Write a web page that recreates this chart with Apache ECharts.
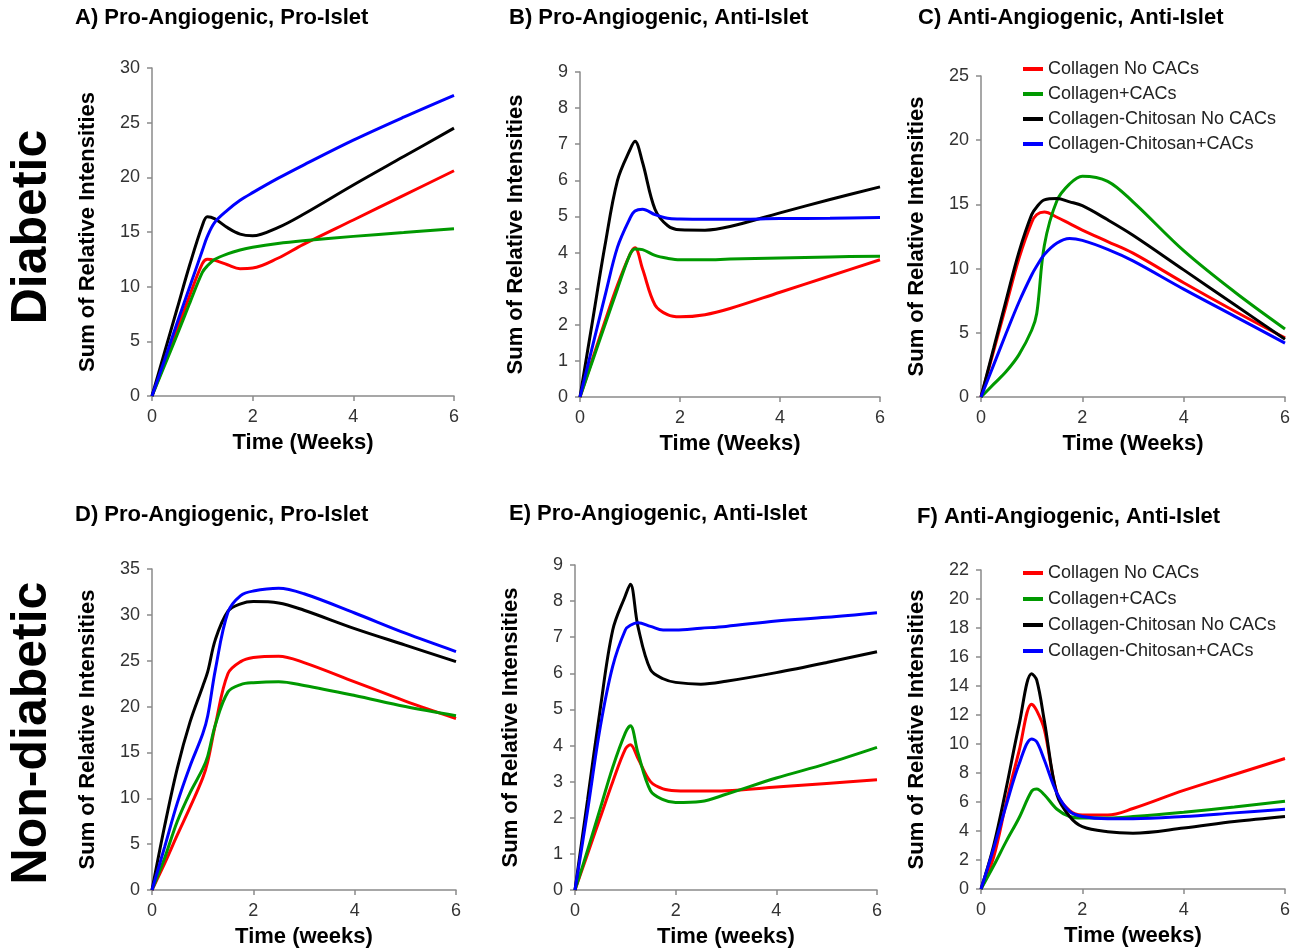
<!DOCTYPE html>
<html>
<head>
<meta charset="utf-8">
<script src="https://cdn.jsdelivr.net/npm/echarts@6/dist/echarts.min.js"></script>
<style>
  html, body { margin: 0; padding: 0; background: #fff; }
  #main { width: 1297px; height: 951px; }
</style>
</head>
<body>
<div id="main"></div>
<script>
// time points (weeks), shared by every curve
const weeks = [0, 0.25, 0.5, 0.75, 1, 1.1, 1.25, 1.5, 1.75, 2, 2.5, 3, 4, 5, 6];

const seriesNames = ['Collagen No CACs', 'Collagen+CACs', 'Collagen-Chitosan No CACs', 'Collagen-Chitosan+CACs'];
const seriesColors = ['#ff0000', '#009900', '#000000', '#0000ff'];

// A) diabetic, pro-angiogenic pro-islet
const aRed   = [0, 3.0, 6.1, 9.2, 12.1, 12.5, 12.4, 12.0, 11.65, 11.7, 12.6, 13.85, 16.1, 18.35, 20.6];
const aGreen = [0, 2.8, 5.6, 8.5, 11.3, 11.9, 12.5, 13.0, 13.35, 13.6, 13.95, 14.2, 14.6, 14.95, 15.3];
const aBlack = [0, 4.0, 8.0, 12.0, 15.6, 16.4, 16.2, 15.4, 14.8, 14.65, 15.4, 16.6, 19.3, 21.9, 24.5];
const aBlue  = [0, 3.3, 6.7, 10.0, 13.3, 14.6, 15.9, 17.0, 17.9, 18.6, 19.9, 21.1, 23.4, 25.5, 27.5];

// B) diabetic, pro-angiogenic anti-islet
const bRed   = [0, 1.05, 2.1, 3.1, 3.95, 4.13, 3.55, 2.55, 2.28, 2.22, 2.28, 2.45, 2.9, 3.35, 3.8];
const bGreen = [0, 1.0, 2.0, 3.0, 3.95, 4.1, 4.08, 3.92, 3.84, 3.8, 3.8, 3.82, 3.85, 3.88, 3.9];
const bBlack = [0, 2.1, 4.2, 6.0, 6.85, 7.08, 6.5, 5.2, 4.75, 4.63, 4.62, 4.72, 5.1, 5.47, 5.82];
const bBlue  = [0, 1.4, 2.8, 4.15, 4.95, 5.15, 5.2, 5.05, 4.95, 4.93, 4.92, 4.92, 4.94, 4.95, 4.97];

// C) diabetic, anti-angiogenic anti-islet
const cRed   = [0, 3.6, 7.2, 10.8, 13.6, 14.2, 14.4, 14.0, 13.5, 13.0, 12.1, 11.2, 8.9, 6.7, 4.6];
const cGreen = [0, 1.0, 2.0, 3.3, 5.2, 6.5, 11.8, 15.3, 16.6, 17.2, 16.8, 15.2, 11.4, 8.2, 5.3];
const cBlack = [0, 3.8, 7.6, 11.3, 14.2, 14.8, 15.35, 15.45, 15.2, 14.9, 13.8, 12.6, 9.9, 7.2, 4.5];
const cBlue  = [0, 2.5, 5.0, 7.4, 9.5, 10.2, 11.1, 12.0, 12.35, 12.2, 11.5, 10.6, 8.4, 6.3, 4.2];

// D) non-diabetic, pro-angiogenic pro-islet
const dRed   = [0, 2.9, 6.0, 9.0, 12.2, 14.0, 18.0, 23.6, 24.9, 25.35, 25.5, 24.8, 22.7, 20.6, 18.7];
const dGreen = [0, 3.5, 7.5, 10.6, 13.2, 14.6, 18.0, 21.6, 22.4, 22.6, 22.7, 22.3, 21.2, 20.0, 19.0];
const dBlack = [0, 7.0, 13.3, 18.3, 22.2, 23.8, 27.3, 30.4, 31.2, 31.45, 31.3, 30.5, 28.5, 26.7, 24.9];
const dBlue  = [0, 4.7, 9.5, 13.5, 17.0, 19.0, 24.0, 30.3, 32.1, 32.6, 32.9, 32.3, 30.2, 28.0, 26.0];

// E) non-diabetic, pro-angiogenic anti-islet
const eRed   = [0, 1.0, 2.0, 3.0, 3.9, 4.02, 3.65, 3.0, 2.8, 2.75, 2.74, 2.75, 2.85, 2.95, 3.05];
const eGreen = [0, 1.1, 2.25, 3.4, 4.35, 4.55, 3.8, 2.75, 2.5, 2.42, 2.45, 2.65, 3.1, 3.5, 3.95];
const eBlack = [0, 2.5, 5.0, 7.2, 8.15, 8.47, 7.3, 6.1, 5.85, 5.75, 5.7, 5.78, 6.02, 6.3, 6.6];
const eBlue  = [0, 2.2, 4.5, 6.2, 7.2, 7.33, 7.4, 7.3, 7.2, 7.2, 7.25, 7.3, 7.45, 7.55, 7.68];

// F) non-diabetic, anti-angiogenic anti-islet
const fRed   = [0, 2.2, 6.0, 9.5, 12.75, 12.3, 11.0, 6.6, 5.4, 5.1, 5.1, 5.55, 6.8, 7.9, 9.0];
const fGreen = [0, 1.6, 3.3, 4.9, 6.75, 6.9, 6.5, 5.5, 5.0, 4.9, 4.9, 5.0, 5.3, 5.65, 6.05];
const fBlack = [0, 3.0, 7.0, 11.3, 14.85, 14.4, 11.6, 6.5, 5.0, 4.3, 3.95, 3.85, 4.2, 4.65, 5.0];
const fBlue  = [0, 2.8, 5.8, 8.6, 10.35, 10.15, 8.9, 6.6, 5.35, 5.0, 4.85, 4.85, 5.0, 5.25, 5.5];

const panelTitles = [
  'A) Pro-Angiogenic, Pro-Islet', 'B) Pro-Angiogenic, Anti-Islet', 'C) Anti-Angiogenic, Anti-Islet',
  'D) Pro-Angiogenic, Pro-Islet', 'E) Pro-Angiogenic, Anti-Islet', 'F) Anti-Angiogenic, Anti-Islet'
];
const yMax = [30, 9, 25, 35, 9, 22];
const yStep = [5, 1, 5, 5, 1, 2];
const xNames = ['Time (Weeks)', 'Time (Weeks)', 'Time (Weeks)', 'Time (weeks)', 'Time (weeks)', 'Time (weeks)'];
const panelData = [
  [aRed, aGreen, aBlack, aBlue], [bRed, bGreen, bBlack, bBlue], [cRed, cGreen, cBlack, cBlue],
  [dRed, dGreen, dBlack, dBlue], [eRed, eGreen, eBlack, eBlue], [fRed, fGreen, fBlack, fBlue]
];

// plot area boxes in pixels
const grids = [
  { left: 152, top: 68, width: 302, height: 328 },
  { left: 580, top: 72, width: 300, height: 325 },
  { left: 981, top: 76, width: 304, height: 321 },
  { left: 152, top: 569, width: 304, height: 321 },
  { left: 575, top: 565, width: 302, height: 325 },
  { left: 981, top: 570, width: 304, height: 319 }
];
const titlePos = [[75, 7], [509, 7], [918, 7], [75, 504], [509, 503], [917, 506]];

const axisGrey = '#8a8a8a';
const boldFont = { fontFamily: 'Liberation Sans, Arial', fontWeight: 'bold', fontSize: 22, color: '#000' };

const chart = echarts.init(document.getElementById('main'));

const xAxes = grids.map((g, i) => ({
  type: 'value', gridIndex: i, min: 0, max: 6, interval: 2,
  name: xNames[i], nameLocation: 'middle', nameGap: 36,
  nameTextStyle: boldFont,
  axisLine: { lineStyle: { color: axisGrey, width: 1.5 } },
  axisTick: { length: 5, lineStyle: { color: axisGrey, width: 1.5 } },
  axisLabel: { fontSize: 18, color: '#333', margin: 12, fontFamily: 'Liberation Sans, Arial' },
  splitLine: { show: false }
}));

const yAxes = grids.map((g, i) => ({
  type: 'value', gridIndex: i, min: 0, max: yMax[i], interval: yStep[i],
  name: 'Sum of Relative Intensities', nameLocation: 'middle', nameGap: 53,
  nameTextStyle: boldFont,
  axisLine: { show: true, lineStyle: { color: axisGrey, width: 1.5 } },
  axisTick: { show: true, length: 5, lineStyle: { color: axisGrey, width: 1.5 } },
  axisLabel: { fontSize: 18, color: '#333', margin: 12, fontFamily: 'Liberation Sans, Arial' },
  splitLine: { show: false }
}));

const series = [];
panelData.forEach((lines, p) => {
  lines.forEach((vals, k) => {
    series.push({
      type: 'line', name: seriesNames[k], xAxisIndex: p, yAxisIndex: p,
      data: weeks.map((t, j) => [t, vals[j]]),
      smooth: 0.35, showSymbol: false, symbol: 'none',
      lineStyle: { color: seriesColors[k], width: 3 },
      itemStyle: { color: seriesColors[k] },
      silent: true, animation: false
    });
  });
});

const legendBase = {
  orient: 'vertical', icon: 'rect', itemWidth: 20, itemHeight: 4,
  data: seriesNames, selectedMode: false, padding: 0,
  textStyle: { fontSize: 18, color: '#222', lineHeight: 18, fontFamily: 'Liberation Sans, Arial' }
};

chart.setOption({
  backgroundColor: '#fff',
  animation: false,
  title: panelTitles.map((t, i) => ({
    text: t, left: titlePos[i][0], top: titlePos[i][1], padding: 0,
    textStyle: boldFont
  })),
  grid: grids,
  xAxis: xAxes,
  yAxis: yAxes,
  legend: [
    Object.assign({}, legendBase, { left: 1023, top: 60, itemGap: 7 }),
    Object.assign({}, legendBase, { left: 1023, top: 564, itemGap: 8 })
  ],
  graphic: [
    { type: 'text', x: 32, y: 227, rotation: Math.PI / 2,
      style: { text: 'Diabetic', font: 'bold 50px Liberation Sans, Arial', fill: '#000', textAlign: 'center', textVerticalAlign: 'middle' } },
    { type: 'text', x: 32, y: 733, rotation: Math.PI / 2,
      style: { text: 'Non-diabetic', font: 'bold 50px Liberation Sans, Arial', fill: '#000', textAlign: 'center', textVerticalAlign: 'middle' } }
  ],
  series: series
});
</script>
</body>
</html>
